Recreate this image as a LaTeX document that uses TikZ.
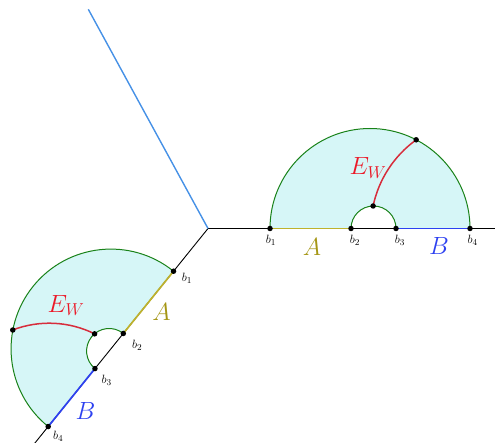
\documentclass[tikz,border=0pt]{standalone}
\definecolor{fillc}{RGB}{214,246,247}
\definecolor{arcg}{RGB}{25,130,25}
\definecolor{olivec}{RGB}{190,178,45}
\definecolor{oliveT}{RGB}{165,150,20}
\definecolor{bluec}{RGB}{45,65,240}
\definecolor{lblue}{RGB}{70,145,230}
\definecolor{redc}{RGB}{215,45,60}
\definecolor{redT}{RGB}{235,25,40}
\begin{document}
\begin{tikzpicture}[x=1pt,y=1pt,
  axis/.style={line width=0.9pt, black},
  geo/.style={line width=1pt, arcg},
  segA/.style={line width=1.7pt, olivec},
  segB/.style={line width=1.7pt, bluec},
  ew/.style={line width=1.5pt, redc},
  brane/.style={line width=1.4pt, lblue},
  dot/.style={circle, fill=black, inner sep=0pt, minimum size=5.5pt},
  blab/.style={font=\fontsize{12.5}{14}\selectfont, inner sep=0pt},
  big/.style={font=\fontsize{24.5}{28}\selectfont, inner sep=0pt}]
\useasboundingbox (0,0) rectangle (495,-443);
\coordinate (O) at (208,-228.5);
\coordinate (Rend) at (497,-228.5);
\coordinate (Btop) at (88.3,-9.3);

% right wedge
\begin{scope}[shift={(O)}]
  \coordinate (r1) at (62,0);
  \coordinate (r2) at (143,0);
  \coordinate (r3) at (188,0);
  \coordinate (r4) at (262,0);
  \coordinate (rP) at (165.1,22.5);
  \coordinate (rQ) at (208.17,88.7);
  \fill[fillc] (r1) arc[start angle=180,end angle=0,radius=100] -- (r3)
     arc[start angle=0,end angle=180,radius=22.5] -- cycle;
\end{scope}

% left wedge (reflected copy)
\begin{scope}[shift={(O)}, rotate=231.1, yscale=-1]
  \coordinate (l1) at (54.9,0);
  \coordinate (l2) at (134.9,0);
  \coordinate (l3) at (180,0);
  \coordinate (l4) at (254.5,0);
  \coordinate (lP) at (153.2,22.1);
  \coordinate (lQ) at (201.6,88.2);
  \coordinate (Lend) at (285,0);
  \fill[fillc] (l1) arc[start angle=180,end angle=0,radius=99.8] -- (l3)
     arc[start angle=0,end angle=180,radius=22.55] -- cycle;
\end{scope}

% axes and brane
\draw[axis] (O) -- (Rend);
\draw[axis] (O) -- (Lend);
\draw[brane] (O) -- (Btop);

% right wedge curves
\draw[segA] (r1) -- (r2);
\draw[segB] (r3) -- (r4);
\draw[geo] (r1) arc[start angle=180,end angle=0,radius=100];
\draw[geo] (r2) arc[start angle=180,end angle=0,radius=22.5];
\draw[ew] (rP) arc[start angle=168.1,end angle=125.8,radius=109.3];

% left wedge curves
\begin{scope}[shift={(O)}, rotate=231.1, yscale=-1]
  \draw[segA] (l1) -- (l2);
  \draw[segB] (l3) -- (l4);
  \draw[geo] (l1) arc[start angle=180,end angle=0,radius=99.8];
  \draw[geo] (l2) arc[start angle=180,end angle=0,radius=22.55];
  \draw[ew] (lP) arc[start angle=167.5,end angle=120.1,radius=102];
\end{scope}

% dots
\foreach \p in {r1,r2,r3,r4,rP,rQ,l1,l2,l3,l4,lP,lQ}
  \node[dot] (d\p) at (\p) {};

% labels right
\node[blab] (tr1) at (271,-240) {$b_1$};
\node[blab] (tr2) at (355,-240) {$b_2$};
\node[blab] (tr3) at (400,-240) {$b_3$};
\node[blab] (tr4) at (472.7,-240) {$b_4$};
\node[big, text=oliveT] (tA1) at (312,-247) {$A$};
\node[big, text=bluec] (tB1) at (439,-246) {$B$};
\node[big, text=redT] (tE1) at (368,-168) {$E_W$};

% labels left
\node[blab] (tl1) at (187,-278) {$b_1$};
\node[blab] (tl2) at (137.3,-345) {$b_2$};
\node[blab] (tl3) at (106.7,-380) {$b_3$};
\node[blab] (tl4) at (58.3,-436.5) {$b_4$};
\node[big, text=oliveT] (tA2) at (161.5,-312) {$A$};
\node[big, text=bluec] (tB2) at (85.5,-410.5) {$B$};
\node[big, text=redT] (tE2) at (66,-305.5) {$E_W$};
\end{tikzpicture}
\end{document}
